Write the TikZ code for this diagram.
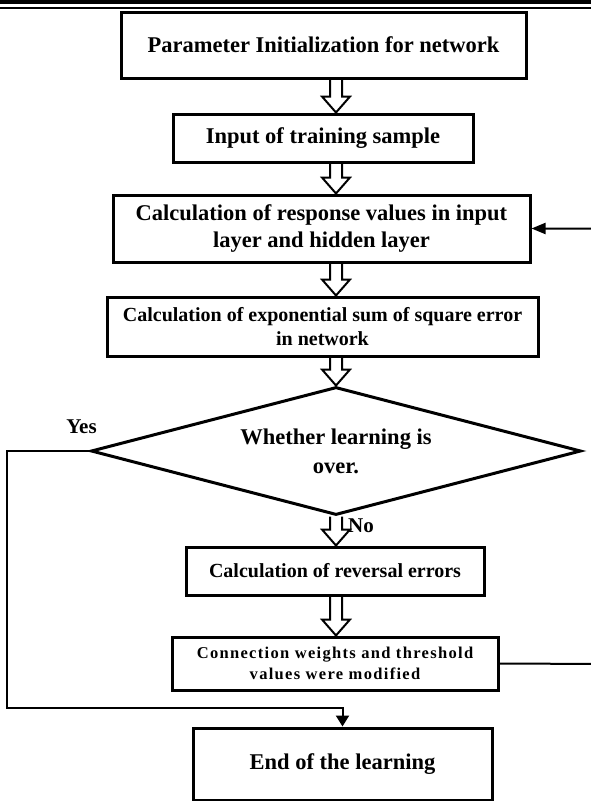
\documentclass[tikz,border=0pt]{standalone}
\usepackage{fontspec}
\setmainfont{Liberation Serif}
\newfontfamily\spacedserif[LetterSpace=8]{Liberation Serif}
\usetikzlibrary{arrows.meta,shapes.geometric,calc}
\newcommand{\hollowarrow}[2]{%
  \draw[hollow] let \p1=(#1), \p2=(#2) in
    (\x1-6pt,\y1) -- (\x1-6pt,\y2+16pt) -- (\x1-14pt,\y2+16pt) -- (\x1,\y2)
    -- (\x1+14pt,\y2+16pt) -- (\x1+6pt,\y2+16pt) -- (\x1+6pt,\y1);}
\tikzset{
  box/.style={draw, line width=3pt, inner sep=0pt, align=center,
    font=\bfseries\fontsize{22.5}{27}\selectfont},
  smallbox/.style={box, font=\bfseries\fontsize{20}{24}\selectfont},
  spacedbox/.style={box, font=\spacedserif\bfseries\fontsize{16.5}{21}\selectfont},
  decision/.style={diamond, draw, line width=3pt, inner sep=0pt, aspect=3.83,
    align=center, font=\bfseries\fontsize{22.5}{29}\selectfont},
  hollow/.style={draw, line width=2pt, line join=miter},
  conn/.style={draw, line width=2pt},
  lbl/.style={inner sep=0pt, font=\bfseries\fontsize{21}{24}\selectfont},
}
\begin{document}
\begin{tikzpicture}[x=1pt,y=-1pt]
\useasboundingbox (0,0) rectangle (591,801);
\clip (0,0) rectangle (591,801);
% header rules
\fill[black] (0,0) rectangle (591,3.6);
\fill[black] (0,7.3) rectangle (591,9.3);
% nodes
\node[box, minimum width=405pt, minimum height=66pt] (B1) at (323.5,45) {Parameter Initialization for network};
\node[box, minimum width=300pt, minimum height=48pt] (B2) at (323,138) {Input of training sample};
\node[box, minimum width=417pt, minimum height=67pt] (B3) at (321.5,228.5) {Calculation of response values in input\\layer and hidden layer};
\node[smallbox, minimum width=431pt, minimum height=59pt] (B4) at (322.5,326.5) {Calculation of exponential sum of square error\\in network};
\node[decision, minimum width=490pt, minimum height=128pt] (D) at (336,451) {Whether learning is\\over.};
\node[smallbox, minimum width=298pt, minimum height=48pt] (B5) at (335,571) {Calculation of reversal errors};
\node[spacedbox, minimum width=326pt, minimum height=53pt] (B6) at (335,663.5) {Connection weights and threshold\\values were modified};
\node[box, minimum width=299pt, minimum height=72pt] (B7) at (342.5,764) {End of the learning};
\node[lbl] (yes) at (81.5,427) {Yes};
\node[lbl] (no) at (361,526) {No};
% arrow axis
\coordinate (ax) at (336,0);
\hollowarrow{B1.south -| ax}{B2.north -| ax}
\hollowarrow{B2.south -| ax}{B3.north -| ax}
\hollowarrow{B3.south -| ax}{B4.north -| ax}
\hollowarrow{B4.south -| ax}{D.north}
\hollowarrow{D.south}{B5.north -| ax}
\hollowarrow{B5.south -| ax}{B6.north -| ax}
% yes branch
\coordinate (yl) at (7,451);
\coordinate (yb) at (7,708);
\draw[conn, -{Triangle[length=11pt,width=13pt]}] (D.west) -- (yl) -- (yb) -| (B7.north);
% feedback loop (vertical part lies beyond the right edge)
\coordinate (fb) at (605,664);
\draw[conn, -{Triangle[length=14pt,width=11pt]}] (B6.east) -- (fb) |- (B3.east);
\end{tikzpicture}
\end{document}
